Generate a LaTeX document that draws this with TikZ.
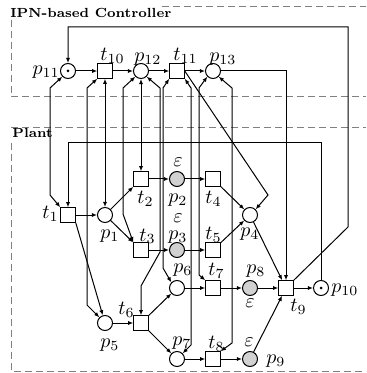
\documentclass[tikz,border=0pt]{standalone}
\usetikzlibrary{arrows.meta}
\begin{document}
\begin{tikzpicture}[x=0.5pt,y=-0.5pt,
  pl/.style={circle,draw,line width=0.5pt,minimum size=7.5pt,inner sep=0pt},
  tr/.style={rectangle,draw,line width=0.5pt,minimum size=7.25pt,inner sep=0pt},
  gry/.style={fill=black!18},
  tok/.style={circle,fill,inner sep=0pt,minimum size=1.5pt},
  flow/.style={line width=0.5pt,-{Latex[length=2.6pt,width=2.1pt]}},
  both/.style={line width=0.5pt,{Latex[length=2.6pt,width=2.1pt]}-{Latex[length=2.6pt,width=2.1pt]}},
  lab/.style={font=\fontsize{10}{12}\selectfont,inner sep=0pt},
  dbox/.style={draw=black!50,dash pattern=on 3.5pt off 2pt,line width=0.5pt},
  ttl/.style={font=\bfseries\fontsize{6.6}{8}\selectfont,inner sep=0pt,anchor=base west}
]
\useasboundingbox (0,0) rectangle (366,373);

% boxes
\draw[dbox] (162,7) -- (366,7);
\draw[dbox] (11,20) -- (11,97) -- (366,97);
\draw[dbox] (11,128) -- (366,128);
\draw[dbox] (11,143) -- (11,371) -- (366,371);
\node[ttl] (ctl) at (10,18) {IPN-based Controller};
\node[ttl] (plt) at (12,138) {Plant};

% controller nodes
\node[pl] (p11) at (68,71) {};
\node[tok] (k11) at (p11) {};
\node[tr] (t10) at (105,71) {};
\node[pl] (p12) at (141,71) {};
\node[tr] (t11) at (177,71) {};
\node[pl] (p13) at (213,71) {};

% plant nodes
\node[tr] (t1) at (68,215) {};
\node[pl] (p1) at (105,215) {};
\node[tr] (t2) at (141,179) {};
\node[pl,gry] (p2) at (177,179) {};
\node[tr] (t4) at (213,179) {};
\node[tr] (t3) at (141,250) {};
\node[pl,gry] (p3) at (177,250) {};
\node[tr] (t5) at (213,250) {};
\node[pl] (p4) at (250,215) {};
\node[pl] (p5) at (105,323) {};
\node[tr] (t6) at (141,323) {};
\node[pl] (p6) at (177,288) {};
\node[pl] (p7) at (177,359) {};
\node[tr] (t7) at (213,288) {};
\node[pl,gry] (p8) at (250,288) {};
\node[tr] (t8) at (213,359) {};
\node[pl,gry] (p9) at (250,359) {};
\node[tr] (t9) at (286,288) {};
\node[pl] (p10) at (321,288) {};
\node[tok] (k10) at (p10) {};

% labels
\node[lab,anchor=base east] (lp11) at (60,75) {$p_{11}$};
\node[lab,anchor=base west] (lt10) at (100,61) {$t_{10}$};
\node[lab,anchor=base west] (lp12) at (134,62) {$p_{12}$};
\node[lab,anchor=base west] (lt11) at (173,61) {$t_{11}$};
\node[lab,anchor=base west] (lp13) at (209,62) {$p_{13}$};
\node[lab,anchor=base east] (lt1) at (59,219) {$t_1$};
\node[lab,anchor=base west] (lp1) at (100,238) {$p_1$};
\node[lab,anchor=base west] (lt2) at (137,204) {$t_2$};
\node[lab,anchor=base west] (lp2) at (168,203) {$p_2$};
\node[lab,anchor=base] (le2) at (178,167) {$\varepsilon$};
\node[lab,anchor=base west] (lt4) at (205,204) {$t_4$};
\node[lab,anchor=base west] (lt3) at (139,241) {$t_3$};
\node[lab,anchor=base west] (lp3) at (168,239) {$p_3$};
\node[lab,anchor=base] (le3) at (178,222) {$\varepsilon$};
\node[lab,anchor=base west] (lt5) at (205,239) {$t_5$};
\node[lab,anchor=base west] (lp4) at (240,236) {$p_4$};
\node[lab,anchor=base west] (lt7) at (208,275) {$t_7$};
\node[lab,anchor=base west] (lp8) at (246,273) {$p_8$};
\node[lab,anchor=base] (le8) at (250,307) {$\varepsilon$};
\node[lab,anchor=base west] (lt9) at (290,311) {$t_9$};
\node[lab,anchor=base west] (lp10) at (331,292) {$p_{10}$};
\node[lab,anchor=base west] (lt8) at (208,348) {$t_8$};
\node[lab,anchor=base west] (lp9) at (266,363) {$p_9$};
\node[lab,anchor=base] (le9) at (249,346) {$\varepsilon$};
\node[lab,anchor=base west] (lp6) at (173,272) {$p_6$};
\node[lab,anchor=base west] (lp7) at (172,345) {$p_7$};
\node[lab,anchor=base west] (lt6) at (118,314) {$t_6$};
\node[lab,anchor=base west] (lp5) at (100,347) {$p_5$};

% controller arcs
\draw[flow] (p11) -- (t10);
\draw[flow] (t10) -- (p12);
\draw[flow] (p12) -- (t11);
\draw[flow] (t11) -- (p13);
\draw[flow] (p13.east) -| (t9.north);
\draw[flow] (t9.north east) -- (348,227) -- (348,27) -| (p11.north);
\draw[flow] (p10.north) -- (p10.north |- 0,143) -| (t1.north);

% controller-plant self loops
\draw[both] (p11.south west) -- (50,88) -- (50,195) -- (t1.north west);
\draw[both] (t10.south west) -- (87,88) -- (87,305) -- (p5.north west);
\draw[both] (t10.south) -- (p1.north);
\draw[both] (p12.south west) -- (123,88) -- (123,214) -- (t3.north west);
\draw[both] (p12.south) -- (t2.north);
\draw[both] (p12.south east) -- (160,88) -- (160,252) -- (141,286) -- (t6.north);
\draw[both] (t11.south west) -- (163,88) -- (163,268) -- (p6.north west);
\draw[both] (t11.south east) -- (191,88) -- (191,345) -- (p7.north east);
\draw[both] (p13.south west) -- (199,88) -- (199,275) -- (t7.north west);
\draw[both] (p13.south east) -- (232,88) -- (232,343) -- (t8.north east);
\draw[flow] (t11.east) -- (268,195) -- (p4.north east);

% plant arcs
\draw[flow] (t1) -- (p1);
\draw[flow] (p1) -- (t2);
\draw[flow] (p1) -- (t3);
\draw[flow] (t2) -- (p2);
\draw[flow] (p2) -- (t4);
\draw[flow] (t3) -- (p3);
\draw[flow] (p3) -- (t5);
\draw[flow] (t4) -- (p4);
\draw[flow] (t5) -- (p4);
\draw[flow] (p4) -- (t9);
\draw[flow] (t1.south east) -- (p5);
\draw[flow] (p5) -- (t6);
\draw[flow] (t6) -- (p6);
\draw[flow] (t6) -- (p7);
\draw[flow] (p6) -- (t7);
\draw[flow] (t7) -- (p8);
\draw[flow] (p8) -- (t9);
\draw[flow] (p7) -- (t8);
\draw[flow] (t8) -- (p9);
\draw[flow] (p9) -- (t9);
\draw[flow] (t9) -- (p10);
\end{tikzpicture}
\end{document}
